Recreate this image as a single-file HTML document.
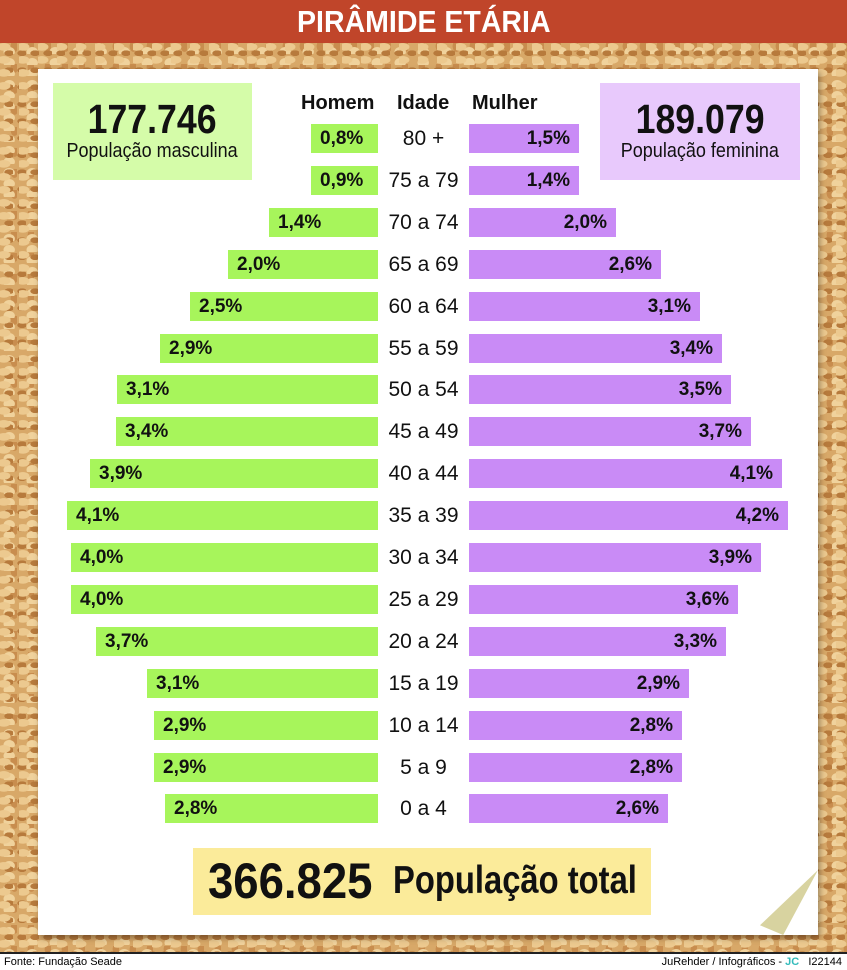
<!DOCTYPE html>
<html><head><meta charset="utf-8"><style>
*{margin:0;padding:0;box-sizing:border-box}
body{width:847px;height:970px;position:relative;overflow:hidden;background:#d6a465;font-family:"Liberation Sans",sans-serif}
.cork{position:absolute;left:0;top:43px;width:847px;height:910px;background:
radial-gradient(ellipse 7px 4px at 20% 30%,#ecc98f 0 90%,transparent 100%),
radial-gradient(ellipse 5px 3px at 70% 60%,#b77a3c 0 90%,transparent 100%),
radial-gradient(ellipse 6px 5px at 40% 80%,#f0d29c 0 90%,transparent 100%),
radial-gradient(ellipse 4px 6px at 85% 15%,#c88d4e 0 90%,transparent 100%),#d8a868;background-size:19px 13px,13px 17px,23px 11px,17px 21px,auto}
.hdr{position:absolute;left:0;top:0;width:847px;height:43px;background:#c0452a;color:#fff;font-weight:bold;font-size:31px;text-align:center;line-height:43px}
.sx{display:inline-block;transform-origin:center}
.paper{position:absolute;left:38px;top:69px;width:780px;height:866px;background:#fff;box-shadow:2px 3px 6px rgba(0,0,0,.35)}
.fold{position:absolute;left:760px;top:870px;width:58px;height:65px;background:#d8d3a0;clip-path:polygon(100% 0,40% 100%,0 85%)}
.foot{position:absolute;left:0;top:952px;width:847px;height:18px;background:#fff;border-top:2px solid #222;font-size:11px;line-height:16px}
.bar{position:absolute;height:29px;font-weight:bold;font-size:19px;line-height:29px;color:#111}
.m{background:#a7f55b;padding-left:9px}
.f{background:#c98bf6;text-align:right;padding-right:9px}
.age{position:absolute;left:378px;width:91px;text-align:center;font-size:21px;line-height:29px;color:#111}
.h{position:absolute;top:92px;font-weight:bold;font-size:20px;color:#111}
</style></head><body>
<div class="cork"></div>
<div class="hdr"><span class="sx" style="transform:scaleX(.92)">PIRÂMIDE ETÁRIA</span></div>
<div class="paper"></div>
<div class="fold"></div>
<div style="position:absolute;left:53px;top:83px;width:199px;height:97px;background:#d5fca9;text-align:center">
<div style="font-weight:bold;font-size:41px;line-height:42px;margin-top:15px;color:#111"><span class="sx" style="transform:scaleX(.87)">177.746</span></div>
<div style="font-size:20px;color:#111;white-space:nowrap"><span class="sx" style="transform:scaleX(.9)">População masculina</span></div></div>
<div style="position:absolute;left:600px;top:83px;width:200px;height:97px;background:#e8c9fc;text-align:center">
<div style="font-weight:bold;font-size:41px;line-height:42px;margin-top:15px;color:#111"><span class="sx" style="transform:scaleX(.87)">189.079</span></div>
<div style="font-size:20px;color:#111;white-space:nowrap"><span class="sx" style="transform:scaleX(.9)">População feminina</span></div></div>
<div class="h" style="left:301px">Homem</div>
<div class="h" style="left:397px">Idade</div>
<div class="h" style="left:472px">Mulher</div>
<div id="rows"></div>
<div style="position:absolute;left:193px;top:848px;width:458px;height:67px;background:#fbeb9a;font-weight:bold;color:#111;white-space:nowrap">
<span style="position:absolute;left:15px;top:3px;font-size:50px;line-height:60px;transform:scaleX(.91);transform-origin:left">366.825</span>
<span style="position:absolute;left:200px;top:10px;font-size:39px;line-height:46px;transform:scaleX(.84);transform-origin:left">População total</span></div>
<div class="foot"><span style="position:absolute;left:4px">Fonte: Fundação Seade</span><span style="position:absolute;right:5px">JuRehder / Infográficos - <b style="color:#3bb">JC</b> &nbsp; I22144</span></div>
<script>
var d=[["80 +","0,8",311,"1,5",579],["75 a 79","0,9",311,"1,4",579],["70 a 74","1,4",269,"2,0",616],["65 a 69","2,0",228,"2,6",661],["60 a 64","2,5",190,"3,1",700],["55 a 59","2,9",160,"3,4",722],["50 a 54","3,1",117,"3,5",731],["45 a 49","3,4",116,"3,7",751],["40 a 44","3,9",90,"4,1",782],["35 a 39","4,1",67,"4,2",788],["30 a 34","4,0",71,"3,9",761],["25 a 29","4,0",71,"3,6",738],["20 a 24","3,7",96,"3,3",726],["15 a 19","3,1",147,"2,9",689],["10 a 14","2,9",154,"2,8",682],["5 a 9","2,9",154,"2,8",682],["0 a 4","2,8",165,"2,6",668]];
var h="";d.forEach(function(r,i){var t=124+i*41.9;
h+='<div class="bar m" style="top:'+t+'px;left:'+r[2]+'px;width:'+(378-r[2])+'px">'+r[1]+'%</div>';
h+='<div class="age" style="top:'+t+'px">'+r[0]+'</div>';
h+='<div class="bar f" style="top:'+t+'px;left:469px;width:'+(r[4]-469)+'px">'+r[3]+'%</div>';});
document.getElementById("rows").innerHTML=h;
</script>
</body></html>
